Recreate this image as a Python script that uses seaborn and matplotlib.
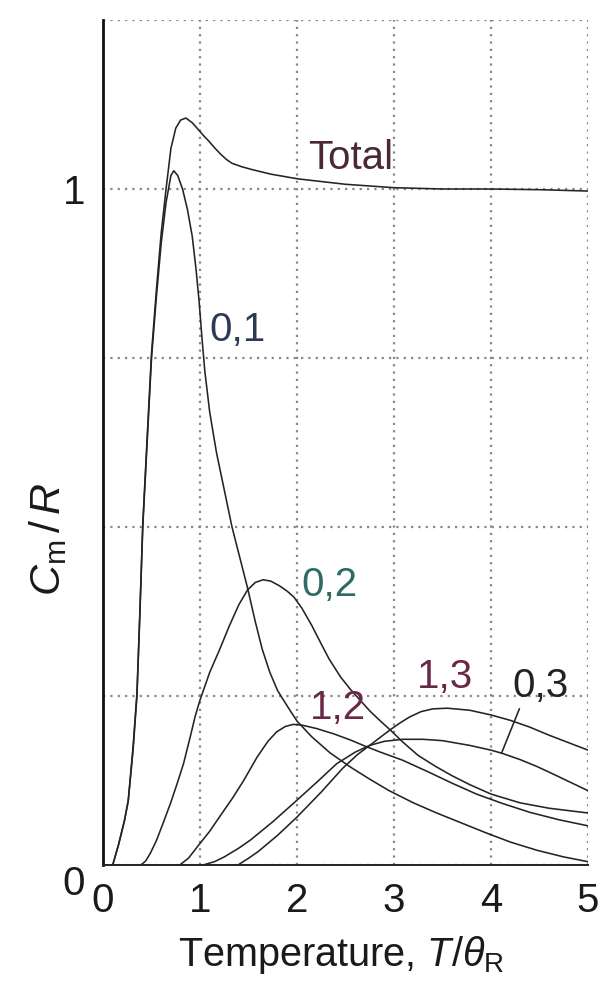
import numpy as np
import pandas as pd
import matplotlib
matplotlib.use('Agg')
import matplotlib.pyplot as plt
import seaborn as sns

# Curves: x = T/theta_R, y = Cm/R
x_total = [0.10, 0.16, 0.22, 0.26, 0.31, 0.35, 0.38, 0.41, 0.455, 0.50, 0.55, 0.60, 0.65, 0.70,
           0.75, 0.80, 0.855, 0.92, 0.97, 1.03, 1.09, 1.15, 1.21, 1.27, 1.33, 1.43, 1.53, 1.73,
           2.01, 2.5, 3.0, 3.5, 4.0, 4.5, 5.0]
y_total = [0.0, 0.03, 0.065, 0.095, 0.175, 0.255, 0.375, 0.505, 0.632, 0.757, 0.85, 0.935, 1.0,
           1.06, 1.09, 1.102, 1.105, 1.098, 1.09, 1.08, 1.071, 1.061, 1.052, 1.044, 1.038, 1.033,
           1.029, 1.022, 1.015, 1.007, 1.002, 1.0, 1.0, 0.999, 0.997]

x_01 = [0.10, 0.16, 0.22, 0.26, 0.31, 0.35, 0.38, 0.41, 0.455, 0.50, 0.55, 0.60, 0.65, 0.70, 0.73,
        0.77, 0.82, 0.87, 0.92, 0.96, 0.99, 1.02, 1.05, 1.10, 1.17, 1.25, 1.33, 1.41, 1.49, 1.57,
        1.64, 1.72, 1.80, 1.90, 2.0, 2.15, 2.34, 2.55, 2.75, 2.95, 3.2, 3.44, 3.7, 3.96, 4.2,
        4.47, 4.75, 5.0]
y_01 = [0.0, 0.03, 0.065, 0.095, 0.17, 0.25, 0.37, 0.5, 0.625, 0.75, 0.84, 0.92, 0.98, 1.02, 1.027,
        1.02, 1.0, 0.97, 0.93, 0.88, 0.835, 0.78, 0.73, 0.67, 0.61, 0.555, 0.5, 0.455, 0.41, 0.36,
        0.32, 0.285, 0.258, 0.235, 0.213, 0.19, 0.166, 0.145, 0.127, 0.11, 0.092, 0.077, 0.062,
        0.047, 0.034, 0.022, 0.012, 0.005]

x_02 = [0.39, 0.44, 0.49, 0.55, 0.62, 0.70, 0.77, 0.83, 0.90, 0.95, 1.0, 1.1, 1.2, 1.3, 1.4,
        1.49, 1.57, 1.65, 1.73, 1.82, 1.90, 1.97, 2.05, 2.15, 2.25, 2.33, 2.45, 2.55, 2.65, 2.75,
        2.86, 2.96, 3.09, 3.25, 3.44, 3.6, 3.78, 4.0, 4.3, 4.6, 5.0]
y_02 = [0.0, 0.006, 0.018, 0.036, 0.062, 0.093, 0.123, 0.15, 0.19, 0.22, 0.244, 0.285, 0.318,
        0.353, 0.385, 0.407, 0.418, 0.422, 0.42, 0.413, 0.405, 0.396, 0.38, 0.355, 0.327, 0.305,
        0.278, 0.26, 0.244, 0.228, 0.213, 0.2, 0.182, 0.162, 0.145, 0.132, 0.119, 0.105, 0.092,
        0.084, 0.077]

x_12 = [0.79, 0.88, 1.0, 1.1, 1.2, 1.34, 1.45, 1.59, 1.70, 1.79, 1.88, 1.96, 2.05, 2.2, 2.38,
        2.55, 2.7, 2.86, 3.09, 3.35, 3.6, 3.85, 4.12, 4.4, 4.7, 5.0]
y_12 = [0.0, 0.01, 0.032, 0.05, 0.071, 0.1, 0.125, 0.16, 0.183, 0.197, 0.205, 0.208, 0.207, 0.202,
        0.194, 0.185, 0.176, 0.167, 0.155, 0.138, 0.121, 0.105, 0.091, 0.078, 0.067, 0.058]

x_03 = [1.03, 1.15, 1.25, 1.4, 1.52, 1.75, 2.0, 2.2, 2.41, 2.6, 2.75, 2.9, 3.09, 3.3, 3.5, 3.78,
        4.0, 4.12, 4.3, 4.47, 4.65, 4.81, 5.0]
y_03 = [0.0, 0.005, 0.012, 0.025, 0.037, 0.064, 0.096, 0.122, 0.15, 0.167, 0.177, 0.183, 0.186,
        0.186, 0.184, 0.177, 0.17, 0.165, 0.156, 0.146, 0.134, 0.123, 0.11]

x_13 = [1.39, 1.5, 1.6, 1.8, 2.0, 2.25, 2.47, 2.62, 2.75, 2.85, 2.96, 3.06, 3.16, 3.28, 3.4,
        3.55, 3.78, 4.0, 4.2, 4.4, 4.6, 4.8, 5.0]
y_13 = [0.0, 0.01, 0.02, 0.044, 0.071, 0.108, 0.143, 0.163, 0.177, 0.188, 0.2, 0.21, 0.219,
        0.227, 0.231, 0.232, 0.229, 0.222, 0.214, 0.204, 0.192, 0.181, 0.17]

curves = {
    'Total': (x_total, y_total),
    '0,1': (x_01, y_01),
    '0,2': (x_02, y_02),
    '1,2': (x_12, y_12),
    '0,3': (x_03, y_03),
    '1,3': (x_13, y_13),
}

# label text, left/baseline position in data units, colour
labels = [
    ('Total', 2.11, 1.03, '#4a2838'),
    ('0,1', 1.10, 0.775, '#2e3a55'),
    ('0,2', 2.05, 0.398, '#2f6b63'),
    ('1,2', 2.13, 0.216, '#6b2846'),
    ('1,3', 3.24, 0.262, '#6b2846'),
]

df = pd.concat([pd.DataFrame({'x': xs, 'y': ys, 'curve': name})
                for name, (xs, ys) in curves.items()], ignore_index=True)

sns.set_theme(style='white')
plt.rcParams['font.family'] = ['Liberation Sans', 'DejaVu Sans']
plt.rcParams['mathtext.fontset'] = 'custom'
plt.rcParams['mathtext.rm'] = 'Liberation Sans'
plt.rcParams['mathtext.it'] = 'Liberation Sans:italic'

fig = plt.figure(figsize=(6.07, 9.81), dpi=100)
ax = fig.add_axes([0.1697, 0.1182, 0.799, 0.8614])

sns.lineplot(data=df, x='x', y='y', hue='curve', estimator=None, sort=False,
             palette={n: '#242424' for n in curves}, linewidth=1.15, legend=False, ax=ax)

ax.set_xlim(0, 5)
ax.set_ylim(0, 1.25)
ax.set_xticks([0, 1, 2, 3, 4, 5])
ax.set_xticklabels(['0', '1', '2', '3', '4', '5'])
ax.set_yticks([0, 0.25, 0.5, 0.75, 1.0, 1.25])
ax.set_yticklabels(['0', '', '', '', '1', ''])
ax.tick_params(axis='x', length=0, pad=12, labelsize=29, colors='#1a1a1a')
ax.tick_params(axis='y', length=0, pad=13, labelsize=29, colors='#1a1a1a')
ax.get_yticklabels()[0].set_va('top')

ax.grid(True, linestyle=(0, (1, 2.3)), color='#878787', linewidth=1.6)
for side in ['top', 'right']:
    ax.spines[side].set_visible(False)
ax.spines['left'].set_color('#111111')
ax.spines['left'].set_linewidth(2.0)
ax.spines['bottom'].set_color('#222222')
ax.spines['bottom'].set_linewidth(1.4)

for text, tx, ty, col in labels:
    ax.text(tx, ty, text, color=col, fontsize=29, ha='left', va='baseline')

ax.annotate('0,3', xy=(4.11, 0.166), xytext=(4.22, 0.248), color='#222222', fontsize=29,
            ha='left', va='baseline',
            arrowprops=dict(arrowstyle='-', color='#242424', lw=1.15, shrinkA=0, shrinkB=0,
                            relpos=(0.15, 0.0)))

ax.set_xlabel(r'Temperature, $T/\theta_\mathrm{R}$', fontsize=28.5, color='#1a1a1a')
ax.set_ylabel(r'$C_\mathrm{m}\,/\,R$', fontsize=31, color='#1a1a1a')
ax.xaxis.set_label_coords(0.49, -0.082)
ax.yaxis.set_label_coords(-0.07, 0.385)

fig.savefig('out.png', dpi=100, facecolor='white')
